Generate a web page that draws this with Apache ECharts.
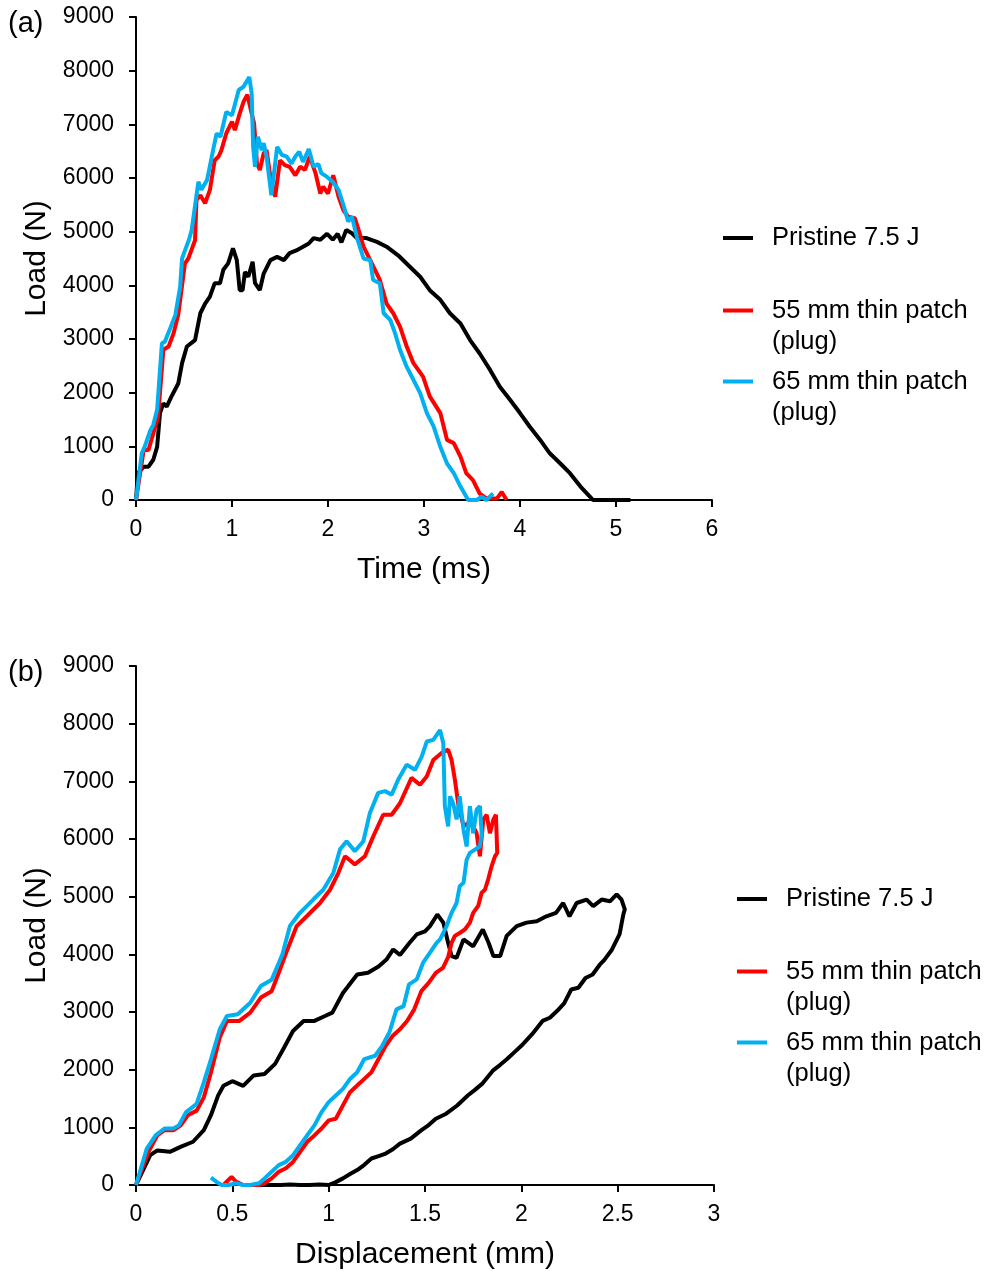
<!DOCTYPE html>
<html>
<head>
<meta charset="utf-8">
<script src="https://cdn.jsdelivr.net/npm/echarts@6/dist/echarts.min.js"></script>
<style>
html,body{margin:0;padding:0;background:#fff;}
#chart{width:990px;height:1271px;}
</style>
</head>
<body>
<div id="chart"></div>
<script>
// ---------- DATA ----------
const seriesNames = ['Pristine 7.5 J', '55 mm thin patch (plug)', '65 mm thin patch (plug)'];
const xTicksTime = [0, 1, 2, 3, 4, 5, 6];
const xTicksDisp = [0, 0.5, 1, 1.5, 2, 2.5, 3];
const yTicksLoad = [0, 1000, 2000, 3000, 4000, 5000, 6000, 7000, 8000, 9000];

// (a) Load (N) vs Time (ms)
const pristineTime = [[0,0],[0.02,500],[0.08,620],[0.13,620],[0.18,750],[0.22,990],[0.25,1620],[0.285,1800],[0.32,1740],[0.37,1930],[0.44,2170],[0.48,2550],[0.53,2860],[0.615,2980],[0.67,3480],[0.72,3660],[0.77,3790],[0.82,4040],[0.875,4040],[0.91,4290],[0.96,4410],[1.01,4690],[1.05,4470],[1.08,3910],[1.11,3910],[1.135,4250],[1.17,4160],[1.215,4440],[1.24,4040],[1.29,3910],[1.33,4220],[1.40,4470],[1.47,4530],[1.54,4470],[1.60,4600],[1.67,4650],[1.74,4720],[1.80,4780],[1.85,4880],[1.92,4850],[1.99,4960],[2.05,4850],[2.10,4960],[2.14,4800],[2.19,5030],[2.25,4970],[2.30,4880],[2.40,4880],[2.51,4810],[2.61,4720],[2.73,4560],[2.85,4350],[2.96,4160],[3.06,3910],[3.17,3730],[3.27,3480],[3.38,3290],[3.48,2980],[3.58,2730],[3.69,2420],[3.79,2110],[3.90,1860],[4.00,1620],[4.10,1370],[4.21,1120],[4.31,870],[4.42,680],[4.52,500],[4.63,250],[4.73,60],[4.76,0],[5.15,0]];
const patch55Time = [[0,0],[0.08,930],[0.13,930],[0.18,1240],[0.23,1550],[0.285,2800],[0.34,2860],[0.39,3100],[0.44,3450],[0.51,4410],[0.545,4500],[0.615,4840],[0.63,5590],[0.67,5680],[0.72,5530],[0.77,5780],[0.82,6330],[0.86,6400],[0.89,6520],[0.94,6830],[1.00,7050],[1.03,6890],[1.08,7200],[1.12,7420],[1.16,7550],[1.205,7200],[1.23,7020],[1.26,6270],[1.29,6150],[1.33,6460],[1.36,6520],[1.40,6020],[1.45,5650],[1.50,6330],[1.55,6240],[1.60,6210],[1.66,6050],[1.71,6210],[1.76,6150],[1.81,6400],[1.87,6090],[1.92,5710],[1.95,5840],[2.00,5710],[2.055,6050],[2.11,5650],[2.16,5400],[2.21,5280],[2.28,5250],[2.33,4970],[2.37,4720],[2.44,4470],[2.54,4100],[2.61,3660],[2.68,3480],[2.75,3230],[2.82,2860],[2.89,2550],[2.99,2300],[3.06,1930],[3.17,1620],[3.24,1120],[3.31,1060],[3.38,810],[3.44,500],[3.51,370],[3.58,120],[3.65,30],[3.76,30],[3.81,150],[3.86,0]];
const patch65Time = [[0,0],[0.06,870],[0.09,990],[0.15,1300],[0.18,1400],[0.22,1680],[0.27,2920],[0.30,2950],[0.35,3170],[0.41,3450],[0.46,3970],[0.48,4500],[0.50,4600],[0.55,4840],[0.58,5030],[0.65,5930],[0.68,5780],[0.74,5960],[0.81,6580],[0.84,6830],[0.88,6770],[0.94,7230],[1.00,7170],[1.07,7640],[1.12,7700],[1.18,7880],[1.205,7580],[1.22,6580],[1.24,6210],[1.27,6770],[1.31,6520],[1.33,6650],[1.36,6400],[1.41,5680],[1.47,6580],[1.52,6430],[1.57,6400],[1.62,6270],[1.66,6400],[1.70,6490],[1.74,6300],[1.80,6540],[1.85,6210],[1.90,6260],[1.93,6090],[1.99,6020],[2.05,5930],[2.11,5780],[2.16,5500],[2.21,5190],[2.25,5280],[2.30,4900],[2.37,4500],[2.44,4470],[2.47,4100],[2.54,4040],[2.58,3480],[2.65,3350],[2.70,3100],[2.75,2800],[2.82,2480],[2.89,2240],[2.96,1990],[3.03,1620],[3.10,1370],[3.17,990],[3.24,680],[3.31,500],[3.38,250],[3.46,0],[3.55,0],[3.60,60],[3.65,0],[3.72,120]];

// (b) Load (N) vs Displacement (mm)
const pristineDisp = [[0,0],[0.074,517],[0.111,600],[0.176,575],[0.231,660],[0.296,750],[0.352,950],[0.389,1210],[0.426,1550],[0.454,1720],[0.5,1800],[0.556,1720],[0.611,1900],[0.667,1925],[0.722,2100],[0.769,2385],[0.815,2670],[0.87,2845],[0.926,2845],[0.981,2930],[1.019,2990],[1.074,3330],[1.148,3650],[1.204,3680],[1.259,3790],[1.30,3910],[1.335,4085],[1.37,3990],[1.42,4200],[1.457,4345],[1.50,4400],[1.526,4490],[1.564,4690],[1.595,4550],[1.62,4200],[1.638,3970],[1.664,3940],[1.70,4260],[1.75,4140],[1.80,4430],[1.83,4200],[1.855,3970],[1.89,3970],[1.924,4320],[1.976,4490],[2.027,4550],[2.08,4575],[2.13,4660],[2.18,4720],[2.217,4890],[2.25,4660],[2.287,4890],[2.339,4950],[2.373,4835],[2.417,4950],[2.46,4920],[2.495,5040],[2.52,4950],[2.537,4780],[2.53,4700],[2.51,4350],[2.47,4080],[2.43,3900],[2.407,3820],[2.37,3650],[2.333,3590],[2.296,3420],[2.259,3390],[2.222,3150],[2.185,3017],[2.148,2900],[2.11,2845],[2.056,2615],[2.0,2414],[1.963,2300],[1.926,2184],[1.889,2080],[1.852,1983],[1.796,1753],[1.759,1650],[1.722,1552],[1.667,1379],[1.61,1236],[1.556,1149],[1.519,1040],[1.48,948],[1.426,805],[1.37,718],[1.333,620],[1.296,546],[1.259,500],[1.222,460],[1.185,350],[1.148,259],[1.111,190],[1.074,115],[1.037,50],[1.0,0],[0.95,10],[0.9,0],[0.85,0],[0.8,10],[0.75,0],[0.7,0],[0.63,0],[0.58,0]];
const patch55Disp = [[0,0],[0.065,575],[0.111,860],[0.148,950],[0.194,950],[0.231,1030],[0.269,1210],[0.315,1290],[0.352,1520],[0.389,1950],[0.435,2560],[0.472,2845],[0.537,2845],[0.593,2990],[0.648,3250],[0.704,3360],[0.741,3680],[0.78,4030],[0.834,4490],[0.886,4660],[0.955,4890],[1.007,5120],[1.05,5410],[1.085,5700],[1.136,5560],[1.188,5700],[1.232,6050],[1.283,6420],[1.327,6420],[1.37,6620],[1.43,7060],[1.474,6940],[1.509,7085],[1.543,7370],[1.586,7490],[1.62,7550],[1.638,7370],[1.655,7030],[1.672,6620],[1.70,6220],[1.725,6280],[1.75,6220],[1.768,6100],[1.785,5700],[1.803,6340],[1.82,6420],[1.837,6100],[1.855,6340],[1.868,6420],[1.875,5760],[1.863,5700],[1.846,5530],[1.828,5300],[1.811,5120],[1.794,5070],[1.776,4840],[1.75,4720],[1.733,4550],[1.707,4430],[1.68,4370],[1.655,4320],[1.638,4200],[1.62,3950],[1.593,3764],[1.556,3678],[1.519,3505],[1.481,3362],[1.444,3046],[1.407,2845],[1.37,2700],[1.333,2590],[1.296,2414],[1.259,2184],[1.222,1954],[1.185,1840],[1.148,1724],[1.111,1610],[1.074,1380],[1.037,1150],[1.0,1120],[0.963,980],[0.926,860],[0.889,750],[0.852,575],[0.815,400],[0.778,290],[0.741,230],[0.704,115],[0.667,30],[0.639,0],[0.593,0],[0.556,0],[0.519,60],[0.496,140],[0.472,60],[0.454,0]];
const patch65Disp = [[0,0],[0.056,630],[0.102,860],[0.148,980],[0.194,980],[0.222,1030],[0.259,1260],[0.315,1410],[0.352,1780],[0.389,2180],[0.435,2700],[0.472,2930],[0.528,2960],[0.593,3160],[0.648,3450],[0.704,3560],[0.741,3850],[0.76,4000],[0.799,4490],[0.851,4720],[0.92,4950],[0.972,5120],[1.024,5410],[1.059,5820],[1.093,5960],[1.136,5790],[1.18,5960],[1.214,6450],[1.257,6800],[1.292,6830],[1.327,6770],[1.361,7030],[1.405,7290],[1.448,7200],[1.483,7430],[1.509,7690],[1.543,7720],[1.578,7890],[1.595,7660],[1.603,6570],[1.62,6220],[1.63,6740],[1.646,6620],[1.664,6340],[1.68,6740],[1.70,6160],[1.716,5870],[1.733,6570],[1.75,6100],[1.768,6510],[1.785,6570],[1.794,6100],[1.785,5870],[1.733,5760],[1.716,5640],[1.70,5240],[1.68,5180],[1.664,4890],[1.638,4720],[1.612,4490],[1.595,4370],[1.578,4260],[1.56,4200],[1.526,4030],[1.49,3855],[1.457,3566],[1.417,3480],[1.389,3103],[1.352,3046],[1.315,2644],[1.278,2414],[1.241,2241],[1.185,2184],[1.148,1954],[1.111,1839],[1.074,1667],[1.037,1552],[1.0,1437],[0.963,1264],[0.926,1034],[0.889,862],[0.852,690],[0.815,517],[0.778,402],[0.741,345],[0.704,230],[0.667,115],[0.639,30],[0.593,0],[0.556,0],[0.519,30],[0.481,0],[0.444,0],[0.417,57],[0.389,126]];

const colors = ['#000000', '#FF0000', '#00B0F0'];

// ---------- CHART ----------
const FONT = '"Liberation Sans", Arial, sans-serif';
const chart = echarts.init(document.getElementById('chart'), null, {renderer: 'canvas'});

function xAxisCfg(gridIndex, ticks, name) {
  return {
    type: 'value', gridIndex: gridIndex,
    min: ticks[0], max: ticks[ticks.length - 1], interval: ticks[1] - ticks[0],
    name: name, nameLocation: 'middle', nameGap: 55,
    nameTextStyle: {fontFamily: FONT, fontSize: 30, color: '#000'},
    axisLine: {show: true, onZero: false, lineStyle: {color: '#000', width: 2}},
    axisTick: {show: true, inside: false, length: 7, lineStyle: {color: '#000', width: 2}},
    axisLabel: {fontFamily: FONT, fontSize: 23, color: '#000', margin: 18,
      formatter: function (v) { return String(v); }},
    splitLine: {show: false}
  };
}
function yAxisCfg(gridIndex) {
  return {
    type: 'value', gridIndex: gridIndex,
    min: yTicksLoad[0], max: yTicksLoad[yTicksLoad.length - 1], interval: yTicksLoad[1] - yTicksLoad[0],
    name: 'Load (N)', nameLocation: 'middle', nameGap: 70,
    nameTextStyle: {fontFamily: FONT, fontSize: 30, color: '#000'},
    axisLine: {show: true, onZero: false, lineStyle: {color: '#000', width: 2}},
    axisTick: {show: true, inside: false, length: 7, lineStyle: {color: '#000', width: 2}},
    axisLabel: {fontFamily: FONT, fontSize: 23, color: '#000', margin: 22,
      formatter: function (v) { return String(v); }},
    splitLine: {show: false}
  };
}
function lineSeries(name, data, color, idx) {
  return {
    type: 'line', name: name, data: data, xAxisIndex: idx, yAxisIndex: idx,
    showSymbol: false, symbol: 'none', smooth: false,
    lineStyle: {color: color, width: 4}, itemStyle: {color: color},
    animation: false
  };
}
function legendCfg(name, left, top, twoLine) {
  return {
    data: [name], left: left, top: top, orient: 'vertical', padding: 0,
    icon: 'rect', itemWidth: 30, itemHeight: 4, selectedMode: false,
    formatter: function (n) {
      return twoLine ? '\n' + n.replace(' (plug)', '\n(plug)') : n;
    },
    textStyle: {fontFamily: FONT, fontSize: 25.5, color: '#000', lineHeight: 31,
      padding: [0, 0, 0, 14]}
  };
}

const option = {
  backgroundColor: '#fff',
  animation: false,
  title: [
    {text: '(a)', left: 8, top: 9, padding: 0, textStyle: {fontFamily: FONT, fontSize: 29, fontWeight: 'normal', color: '#000'}},
    {text: '(b)', left: 8, top: 658, padding: 0, textStyle: {fontFamily: FONT, fontSize: 29, fontWeight: 'normal', color: '#000'}}
  ],
  grid: [
    {left: 136, top: 17, width: 576, height: 483},
    {left: 136, top: 666, width: 578, height: 520}
  ],
  xAxis: [xAxisCfg(0, xTicksTime, 'Time (ms)'), xAxisCfg(1, xTicksDisp, 'Displacement (mm)')],
  yAxis: [yAxisCfg(0), yAxisCfg(1)],
  legend: [
    legendCfg(seriesNames[0], 723, 222.5, false),
    legendCfg(seriesNames[1], 723, 264, true),
    legendCfg(seriesNames[2], 723, 335, true),
    legendCfg(seriesNames[0], 737, 883.5, false),
    legendCfg(seriesNames[1], 737, 925, true),
    legendCfg(seriesNames[2], 737, 996, true)
  ],
  series: [
    lineSeries(seriesNames[0], pristineTime, colors[0], 0),
    lineSeries(seriesNames[1], patch55Time, colors[1], 0),
    lineSeries(seriesNames[2], patch65Time, colors[2], 0),
    lineSeries(seriesNames[0], pristineDisp, colors[0], 1),
    lineSeries(seriesNames[1], patch55Disp, colors[1], 1),
    lineSeries(seriesNames[2], patch65Disp, colors[2], 1)
  ]
};
chart.setOption(option);
</script>
</body>
</html>
